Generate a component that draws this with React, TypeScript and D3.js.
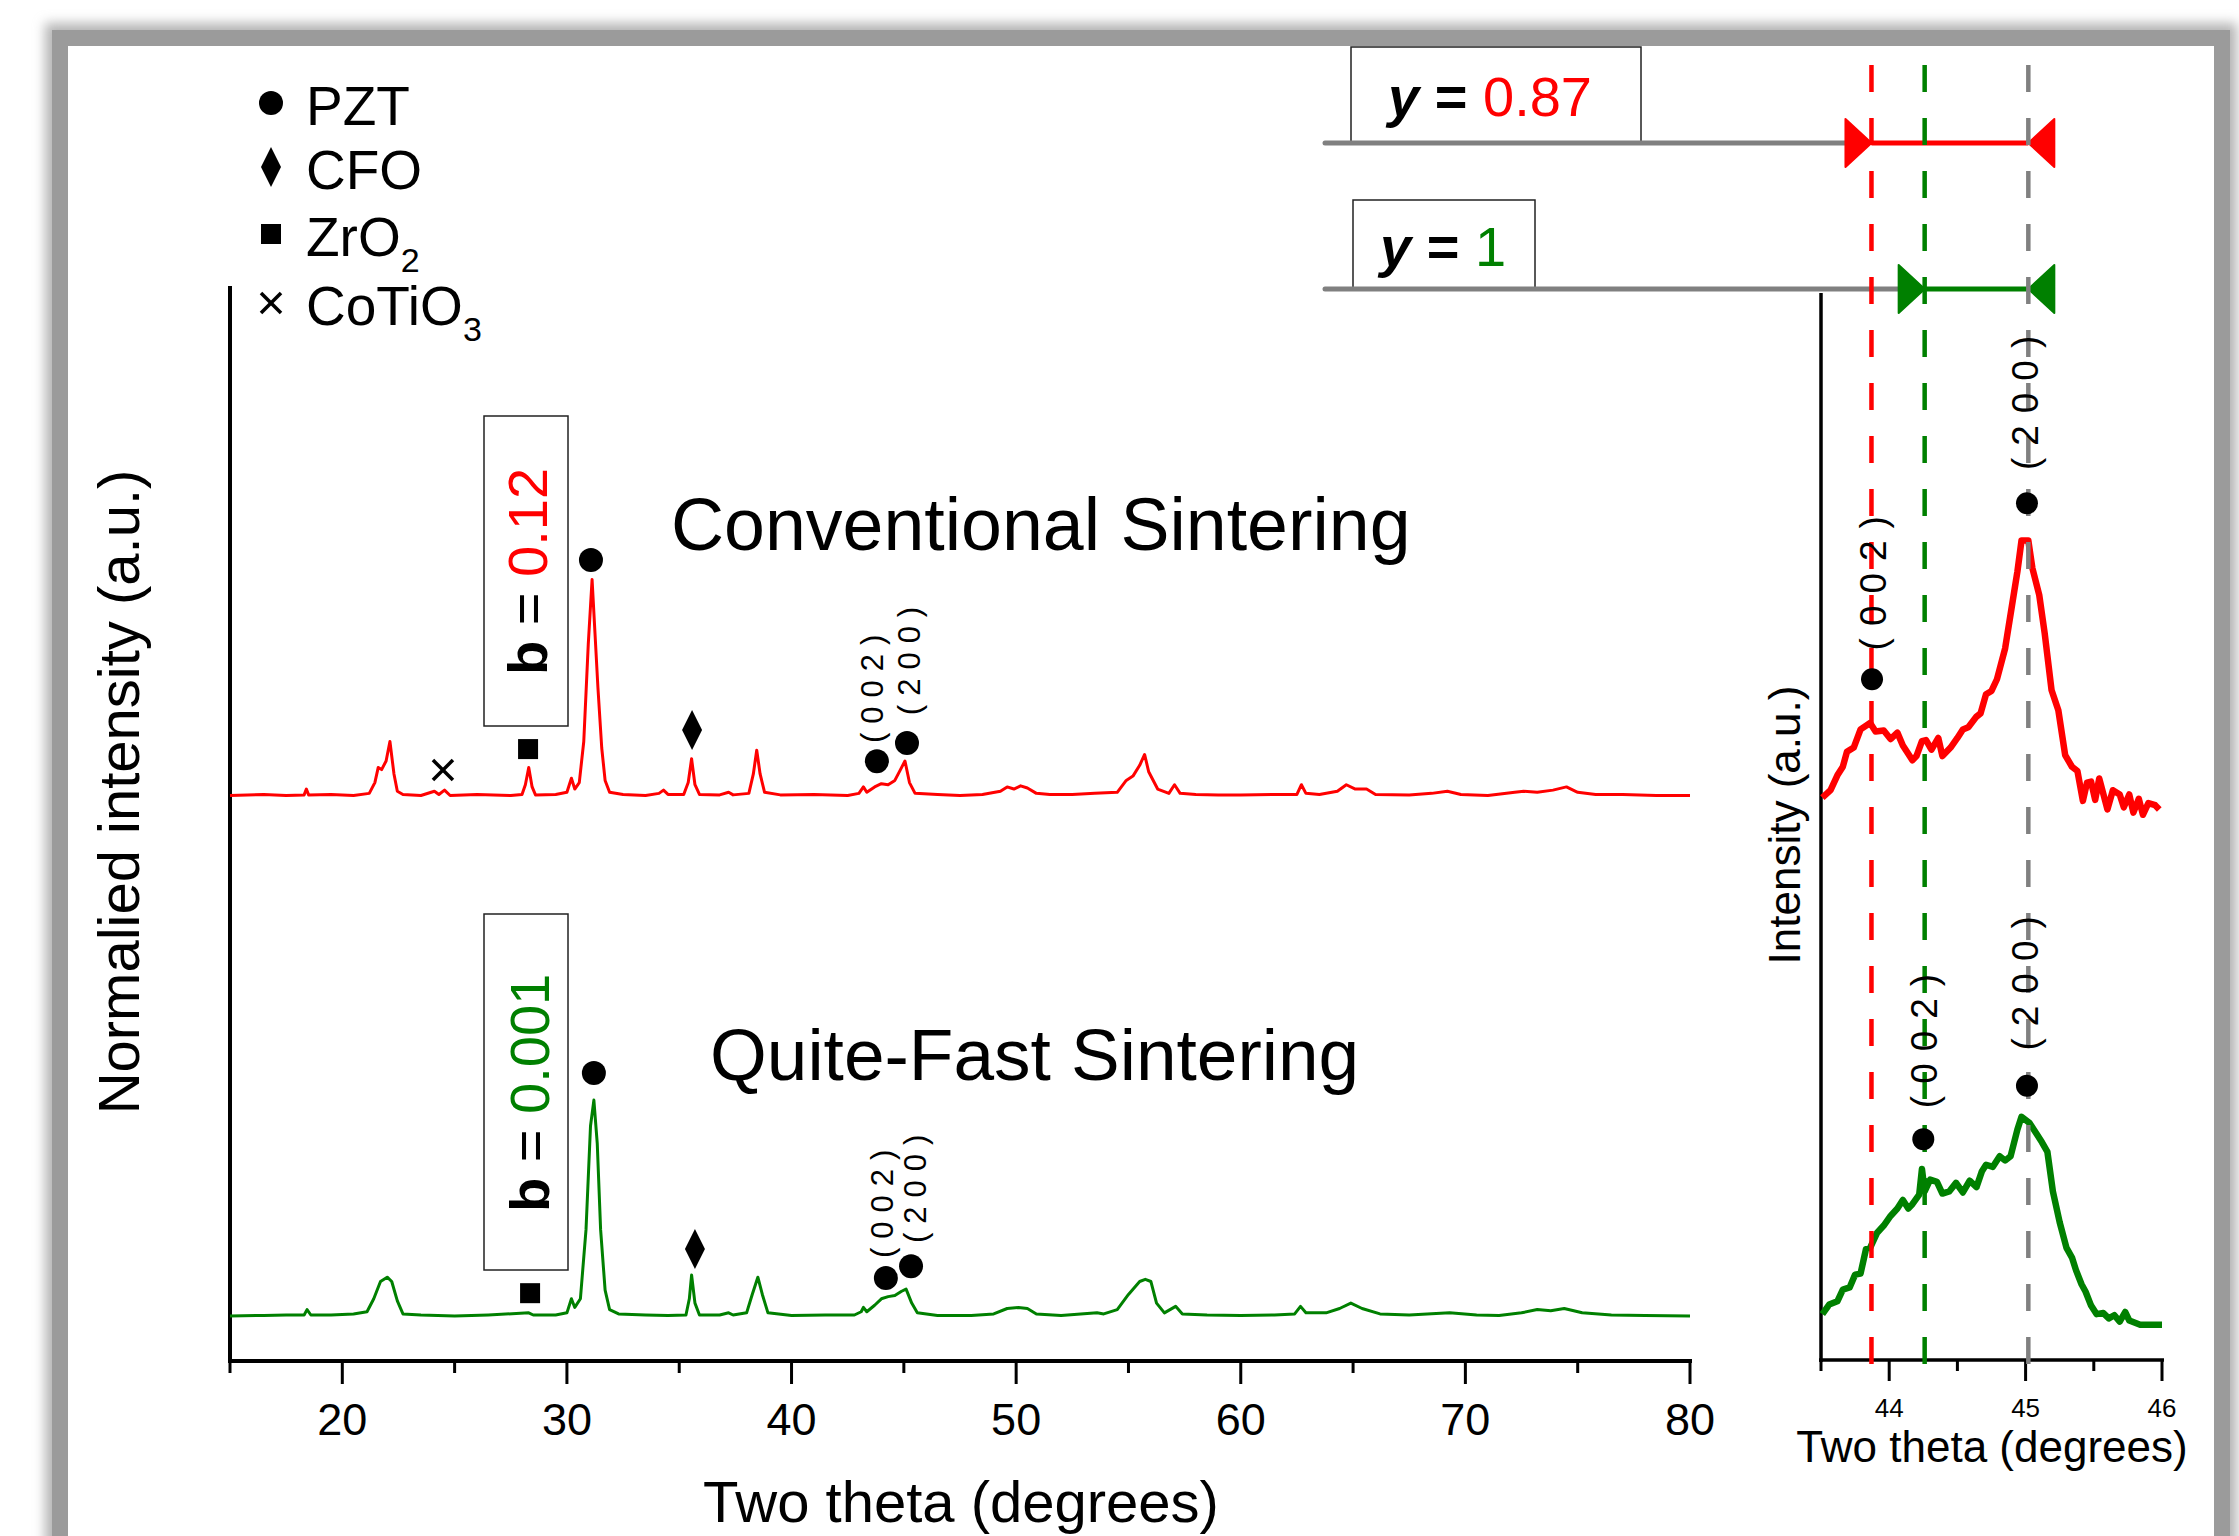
import React from "react";
import * as d3 from "d3";

const W = 2239;
const H = 1536;
const FONT = "'Liberation Sans', Arial, Helvetica, sans-serif";
const RED = "#ff0000";
const GREEN = "#008000";
const GRAY = "#808080";

// main patterns: [two theta, intensity above the trace's own baseline, main peak = 100]
const conventional: [number, number][] = [
  [15, 0], [16.5, 0.5], [17.5, 0], [18.3, 0.3], [18.4, 3], [18.5, 0.3], [19.5, 0.5], [20.5, 0],
  [21.2, 1], [21.45, 6], [21.6, 13], [21.75, 12], [21.95, 16], [22.12, 25], [22.3, 10], [22.45, 2],
  [22.7, 0.5], [23.5, 0], [24.1, 2], [24.3, 0.5], [24.55, 2.5], [24.8, 0], [26, 0.5], [27.5, 0],
  [28, 0.5], [28.15, 5], [28.3, 13], [28.45, 4], [28.6, 0.3], [29.5, 0.5], [30, 1.5], [30.2, 8],
  [30.35, 3], [30.55, 6], [30.75, 25], [30.95, 70], [31.12, 100], [31.25, 75], [31.38, 50],
  [31.55, 22], [31.7, 7], [31.9, 1.5], [32.5, 0.5], [33.5, 0], [34.1, 1], [34.3, 2.5], [34.5, 0.5],
  [35.2, 0.5], [35.4, 6], [35.55, 17], [35.7, 5], [35.9, 0.5], [36.8, 0.3], [37.2, 1.5], [37.4, 0.3],
  [38.1, 1], [38.3, 10], [38.45, 21], [38.6, 10], [38.8, 1.5], [39.5, 0.3], [41, 0.5], [42.5, 0],
  [43, 1], [43.2, 4], [43.35, 1.5], [43.7, 4], [44, 5.5], [44.3, 5], [44.6, 7], [44.85, 12],
  [45.05, 16], [45.25, 6], [45.5, 1], [46.5, 0.5], [47.5, 0], [48.5, 0.5], [49.3, 2], [49.6, 4],
  [49.9, 3], [50.2, 4.5], [50.5, 3.5], [50.9, 1], [51.5, 0.5], [52.5, 0.5], [53.5, 1], [54.5, 1.5],
  [54.9, 7], [55.2, 9], [55.5, 14], [55.72, 19], [55.9, 11], [56.3, 3], [56.8, 1], [57.05, 5],
  [57.3, 1], [58, 0.5], [59, 0.3], [60, 0.3], [61.5, 0.5], [62.5, 0.5], [62.7, 5], [62.9, 1],
  [63.5, 0.5], [64.3, 2], [64.7, 5], [65.1, 3], [65.6, 3], [66, 0.5], [67.5, 0.3], [68.5, 1],
  [69.2, 2], [69.8, 0.5], [71, 0], [72.2, 1.5], [72.6, 2], [73.2, 1.5], [73.9, 2.5], [74.5, 4],
  [75, 1.5], [75.8, 0.5], [77, 0.5], [78.5, 0], [80, 0],
];

const quiteFast: [number, number][] = [
  [15, 0], [16.5, 0.3], [17.5, 0.5], [18.3, 0.5], [18.43, 3], [18.6, 0.5], [19.5, 0.5], [20.5, 1],
  [21.1, 2], [21.4, 8], [21.7, 16], [22, 18], [22.2, 16], [22.45, 7], [22.7, 1], [23.5, 0.5],
  [25, 0], [26.5, 0.5], [28.3, 1.5], [28.5, 0.5], [29.5, 0.5], [30, 1.5], [30.2, 8], [30.35, 4],
  [30.6, 8], [30.85, 40], [31.05, 88], [31.2, 100], [31.35, 80], [31.5, 40], [31.7, 12], [31.9, 3],
  [32.3, 1], [33.5, 0.5], [34.5, 0.3], [35.3, 0.5], [35.45, 8], [35.55, 19], [35.7, 6], [35.9, 0.5],
  [36.8, 0.5], [37.2, 1.5], [37.4, 0.5], [38, 1.5], [38.25, 10], [38.5, 18], [38.7, 10], [38.95, 1.5],
  [40, 0.3], [41.5, 0.5], [42.8, 0.5], [43.1, 2], [43.2, 4], [43.35, 2], [43.7, 5], [44, 8],
  [44.3, 9], [44.6, 9.5], [44.9, 11.5], [45.1, 12.5], [45.35, 6], [45.6, 1.5], [46.5, 0.3], [48, 0.3],
  [49, 1], [49.6, 3.5], [50.1, 4], [50.5, 3.5], [50.9, 1], [52, 0.3], [53.6, 1.5], [53.9, 1],
  [54.5, 3], [55, 10], [55.5, 16], [55.75, 17], [56, 16], [56.25, 6], [56.6, 1.5], [57.1, 4.5],
  [57.4, 1], [58.5, 0.5], [60, 0.3], [61.5, 0.5], [62.4, 1], [62.66, 4.5], [62.9, 1.5], [63.8, 1.5],
  [64.4, 3.5], [64.9, 6], [65.4, 3.5], [66.2, 1], [67.5, 0.5], [69.3, 1.5], [70.5, 0.5], [71.5, 0.3],
  [72.5, 1.5], [73.2, 3], [73.8, 2.5], [74.4, 3.5], [75.2, 1.5], [76.5, 0.5], [78, 0.3], [80, 0],
];

const stackOffset = { conventional: 241, quiteFast: 0 };

// zoomed (002)/(200) region, intensity in a.u.
const insetConventional: [number, number][] = [
  [43.51, 52.7], [43.57, 53.4], [43.62, 54.8], [43.66, 55.6], [43.69, 57], [43.74, 57.4],
  [43.79, 59.1], [43.86, 59.7], [43.9, 58.9], [43.96, 59], [44.01, 58.2], [44.06, 58.8],
  [44.1, 57.6], [44.13, 57], [44.17, 56.2], [44.2, 56.6], [44.24, 58], [44.27, 58.1],
  [44.31, 57.2], [44.36, 58.3], [44.39, 56.6], [44.45, 57.4], [44.5, 58.3], [44.54, 59.1],
  [44.58, 59.3], [44.64, 60.3], [44.67, 60.6], [44.71, 62.4], [44.75, 62.7], [44.79, 63.8],
  [44.85, 66.7], [44.9, 70.7], [44.94, 73.9], [44.97, 76.8], [45.02, 76.8], [45.05, 74.2],
  [45.1, 71.7], [45.14, 68.1], [45.19, 62.8], [45.24, 60.9], [45.29, 56.7], [45.34, 55.6],
  [45.38, 55.2], [45.42, 52.4], [45.45, 54.1], [45.48, 54.2], [45.51, 52.5], [45.54, 54.5],
  [45.6, 51.6], [45.64, 53.4], [45.69, 53], [45.72, 51.8], [45.76, 53], [45.79, 51.3],
  [45.83, 52.6], [45.86, 51.1], [45.9, 52.2], [45.95, 52], [45.98, 51.6],
];

const insetQuiteFast: [number, number][] = [
  [43.51, 4.3], [43.56, 5.2], [43.62, 5.5], [43.66, 6.6], [43.71, 6.8], [43.75, 8],
  [43.79, 8.1], [43.83, 10.4], [43.86, 10.5], [43.91, 11.9], [43.96, 12.6], [44.01, 13.5],
  [44.06, 14.2], [44.1, 15], [44.14, 14.2], [44.17, 14.6], [44.22, 15.5], [44.24, 17.9],
  [44.26, 15.8], [44.3, 16.9], [44.35, 16.7], [44.39, 15.6], [44.44, 15.8], [44.49, 16.6],
  [44.54, 15.7], [44.59, 16.8], [44.64, 16.2], [44.68, 17.7], [44.71, 18.3], [44.76, 18.1],
  [44.81, 19.1], [44.85, 18.7], [44.89, 19.1], [44.94, 21.6], [44.97, 22.8], [45.03, 22.2],
  [45.08, 21.2], [45.12, 20.4], [45.16, 19.5], [45.2, 15.8], [45.25, 12.9], [45.3, 10.5],
  [45.34, 9.6], [45.37, 8.4], [45.41, 7.1], [45.44, 6.4], [45.48, 5.1], [45.52, 4.3],
  [45.57, 4.4], [45.61, 3.9], [45.65, 4.2], [45.69, 3.6], [45.73, 4.5], [45.76, 3.7],
  [45.84, 3.3], [45.91, 3.3], [46, 3.3],
];

const mainMajorTicks = [20, 30, 40, 50, 60, 70, 80];
const mainMinorTicks = [15, 25, 35, 45, 55, 65, 75];
const insetMajorTicks = [44, 45, 46];
const insetMinorTicks = [43.5, 44.5, 45.5];

// phase symbols on the main patterns: [two theta, stacked intensity]
const phaseMarks: { shape: string; x: number; y: number }[] = [
  { shape: "cross", x: 24.48, y: 252.8 },
  { shape: "square", x: 28.27, y: 262.5 },
  { shape: "circle", x: 31.07, y: 350 },
  { shape: "diamond", x: 35.57, y: 271.3 },
  { shape: "circle", x: 43.8, y: 256.9 },
  { shape: "circle", x: 45.14, y: 265.3 },
  { shape: "square", x: 28.36, y: 10.6 },
  { shape: "circle", x: 31.2, y: 112.5 },
  { shape: "diamond", x: 35.7, y: 31 },
  { shape: "circle", x: 44.2, y: 17.6 },
  { shape: "circle", x: 45.32, y: 23.1 },
];

const hklMain: { text: string; x: number; y: number }[] = [
  { text: "(002)", x: 44.07, y: 265.3 },
  { text: "(200)", x: 45.72, y: 278.2 },
  { text: "(002)", x: 44.52, y: 26.9 },
  { text: "(200)", x: 45.99, y: 33.8 },
];

const insetDots: [number, number][] = [
  [43.874, 63.8], [45.01, 80.3], [44.25, 20.7], [45.01, 25.7],
];
const hklInset: { text: string; x: number; y: number }[] = [
  { text: "(002)", x: 43.98, y: 66.5 },
  { text: "(200)", x: 45.09, y: 83.4 },
  { text: "(002)", x: 44.35, y: 23.6 },
  { text: "(200)", x: 45.09, y: 29.0 },
];

const refLines = [
  { x: 43.87, color: RED },
  { x: 44.26, color: GREEN },
  { x: 45.02, color: GRAY },
];
const shiftBars = [
  { value: "0.87", from: 43.87, to: 45.02, color: RED },
  { value: "1", from: 44.26, to: 45.02, color: GREEN },
];

const legendItems = [
  { shape: "circle", name: "PZT", sub: "" },
  { shape: "diamond", name: "CFO", sub: "" },
  { shape: "square", name: "ZrO", sub: "2" },
  { shape: "cross", name: "CoTiO", sub: "3" },
];
const legendRows = [125, 189, 256, 325];

const x = d3.scaleLinear().domain([15, 80]).range([230, 1690]);
const y = d3.scaleLinear().domain([-20.8, 476.9]).range([1361, 286]);
const xi = d3.scaleLinear().domain([43.5, 46]).range([1821, 2162]);
const yi = d3.scaleLinear().domain([0, 100]).range([1360, 293]);

function symbol(shape: string, cx: number, cy: number, k: string) {
  if (shape === "circle") return <circle key={k} cx={cx} cy={cy} r={12} fill="#000" />;
  if (shape === "square")
    return <rect key={k} x={cx - 10} y={cy - 10} width={20} height={20} fill="#000" />;
  if (shape === "diamond")
    return (
      <polygon key={k} points={`${cx},${cy - 20} ${cx + 10},${cy} ${cx},${cy + 20} ${cx - 10},${cy}`} fill="#000" />
    );
  return (
    <g key={k} stroke="#000" strokeWidth={3.5}>
      <line x1={cx - 10} y1={cy - 10} x2={cx + 10} y2={cy + 10} />
      <line x1={cx - 10} y1={cy + 10} x2={cx + 10} y2={cy - 10} />
    </g>
  );
}

export default function App() {
  const mainLine = (off: number) =>
    d3.line<[number, number]>().x((d) => x(d[0])).y((d) => y(d[1] + off));
  const insetLine = d3.line<[number, number]>().x((d) => xi(d[0])).y((d) => yi(d[1]));

  return (
    <div style={{ position: "absolute", left: 0, top: 0 }}>
      <svg width={W} height={H} style={{ display: "block", fontFamily: FONT }}>
        <defs>
          <filter id="soft" x="-5%" y="-5%" width="110%" height="110%">
            <feGaussianBlur stdDeviation="6" />
          </filter>
        </defs>
        <rect width={W} height={H} fill="#fff" />
        {/* picture frame */}
        <rect x={58} y={36} width={2166} height={1620} fill="none" stroke="#b5b5b5" strokeWidth={26} filter="url(#soft)" />
        <rect x={60} y={38} width={2162} height={1620} fill="#fff" stroke="#9b9b9b" strokeWidth={16} />

        {/* legend */}
        {legendItems.map((d, i) => (
          <g key={d.name}>
            {symbol(d.shape, 271, legendRows[i] - 22, "l" + i)}
            <text x={306} y={legendRows[i]} fontSize={55}>
              {d.name}
              {d.sub && (
                <tspan fontSize={34} dy={16}>
                  {d.sub}
                </tspan>
              )}
            </text>
          </g>
        ))}

        {/* main axes */}
        <line x1={230} y1={286} x2={230} y2={1363} stroke="#000" strokeWidth={4} />
        <line x1={228} y1={1361} x2={1692} y2={1361} stroke="#000" strokeWidth={4} />
        {mainMajorTicks.map((t) => (
          <g key={"M" + t}>
            <line x1={x(t)} x2={x(t)} y1={1361} y2={1384} stroke="#000" strokeWidth={3} />
            <text x={x(t)} y={1435} fontSize={45} textAnchor="middle">
              {t}
            </text>
          </g>
        ))}
        {mainMinorTicks.map((t) => (
          <line key={"m" + t} x1={x(t)} x2={x(t)} y1={1361} y2={1373} stroke="#000" strokeWidth={3} />
        ))}
        <text x={961} y={1522} fontSize={58} textAnchor="middle">
          Two theta (degrees)
        </text>
        <text transform="translate(139,792) rotate(-90)" fontSize={58} textAnchor="middle">
          Normalied intensity (a.u.)
        </text>

        {/* patterns */}
        <path d={mainLine(stackOffset.conventional)(conventional) || ""} fill="none" stroke={RED} strokeWidth={3} strokeLinejoin="round" />
        <path d={mainLine(stackOffset.quiteFast)(quiteFast) || ""} fill="none" stroke={GREEN} strokeWidth={3} strokeLinejoin="round" />

        {phaseMarks.map((d, i) => symbol(d.shape, x(d.x), y(d.y), "p" + i))}
        {hklMain.map((d, i) => (
          <text key={"h" + i} transform={`translate(${x(d.x)},${y(d.y)}) rotate(-90)`} fontSize={31} letterSpacing={9}>
            {d.text}
          </text>
        ))}

        {/* b boxes */}
        <rect x={484} y={416} width={84} height={310} fill="none" stroke="#222" strokeWidth={1.5} />
        <text transform="translate(547,675) rotate(-90)" fontSize={56}>
          <tspan fontWeight="bold">b</tspan> = <tspan fill={RED}>0.12</tspan>
        </text>
        <rect x={484} y={914} width={84} height={356} fill="none" stroke="#222" strokeWidth={1.5} />
        <text transform="translate(549,1212) rotate(-90)" fontSize={56}>
          <tspan fontWeight="bold">b</tspan> = <tspan fill={GREEN}>0.001</tspan>
        </text>

        <text x={671} y={550} fontSize={73.5}>
          Conventional Sintering
        </text>
        <text x={710} y={1080} fontSize={73}>
          Quite-Fast Sintering
        </text>

        {/* inset axes */}
        <line x1={1821} y1={293} x2={1821} y2={1362} stroke="#000" strokeWidth={3.5} />
        <line x1={1819} y1={1360} x2={2164} y2={1360} stroke="#000" strokeWidth={3.5} />
        {insetMajorTicks.map((t) => (
          <g key={"I" + t}>
            <line x1={xi(t)} x2={xi(t)} y1={1360} y2={1381} stroke="#000" strokeWidth={3} />
            <text x={xi(t)} y={1417} fontSize={26} textAnchor="middle">
              {t}
            </text>
          </g>
        ))}
        {insetMinorTicks.map((t) => (
          <line key={"i" + t} x1={xi(t)} x2={xi(t)} y1={1360} y2={1371} stroke="#000" strokeWidth={3} />
        ))}
        <text x={1992} y={1462} fontSize={44} textAnchor="middle">
          Two theta (degrees)
        </text>
        <text transform="translate(1800,825) rotate(-90)" fontSize={44} textAnchor="middle">
          Intensity (a.u.)
        </text>

        {/* shift bars */}
        {shiftBars.map((b, i) => {
          const yy = i === 0 ? 143 : 289;
          const top = i === 0 ? 47 : 200;
          const bx = i === 0 ? 1351 : 1353;
          const bw = i === 0 ? 290 : 182;
          const tx = i === 0 ? 1388 : 1380;
          const x0 = xi(b.from);
          const x1 = xi(b.to);
          return (
            <g key={"s" + i}>
              <rect x={bx} y={top} width={bw} height={yy - top} fill="#fff" stroke="#222" strokeWidth={1.5} />
              <text x={tx} y={i === 0 ? 116 : 266} fontSize={56}>
                <tspan fontWeight="bold" fontStyle="italic">y</tspan>
                <tspan fontWeight="bold"> = </tspan>
                <tspan fill={b.color}>{b.value}</tspan>
              </text>
              <line x1={1325} x2={x0 - 26} y1={yy} y2={yy} stroke={GRAY} strokeWidth={5} strokeLinecap="round" />
              <line x1={x0} x2={x1} y1={yy} y2={yy} stroke={b.color} strokeWidth={5} />
              <polygon points={`${x0 - 26},${yy - 24} ${x0 - 26},${yy + 24} ${x0},${yy}`} fill={b.color} stroke={b.color} strokeWidth={2} strokeLinejoin="round" />
              <polygon points={`${x1 + 26},${yy - 24} ${x1 + 26},${yy + 24} ${x1},${yy}`} fill={b.color} stroke={b.color} strokeWidth={2} strokeLinejoin="round" />
            </g>
          );
        })}

        {/* inset traces */}
        <path d={insetLine(insetConventional) || ""} fill="none" stroke={RED} strokeWidth={6.5} strokeLinejoin="round" />
        <path d={insetLine(insetQuiteFast) || ""} fill="none" stroke={GREEN} strokeWidth={6.5} strokeLinejoin="round" />

        {refLines.map((r) => (
          <line key={"r" + r.x} x1={xi(r.x)} x2={xi(r.x)} y1={65} y2={1368} stroke={r.color} strokeWidth={4.5} strokeDasharray="27 26" />
        ))}

        {insetDots.map((d, i) => (
          <circle key={"d" + i} cx={xi(d[0])} cy={yi(d[1])} r={11} fill="#000" />
        ))}
        {hklInset.map((d, i) => (
          <text key={"hi" + i} transform={`translate(${xi(d.x)},${yi(d.y)}) rotate(-90)`} fontSize={37} letterSpacing={12}>
            {d.text}
          </text>
        ))}
      </svg>
    </div>
  );
}
